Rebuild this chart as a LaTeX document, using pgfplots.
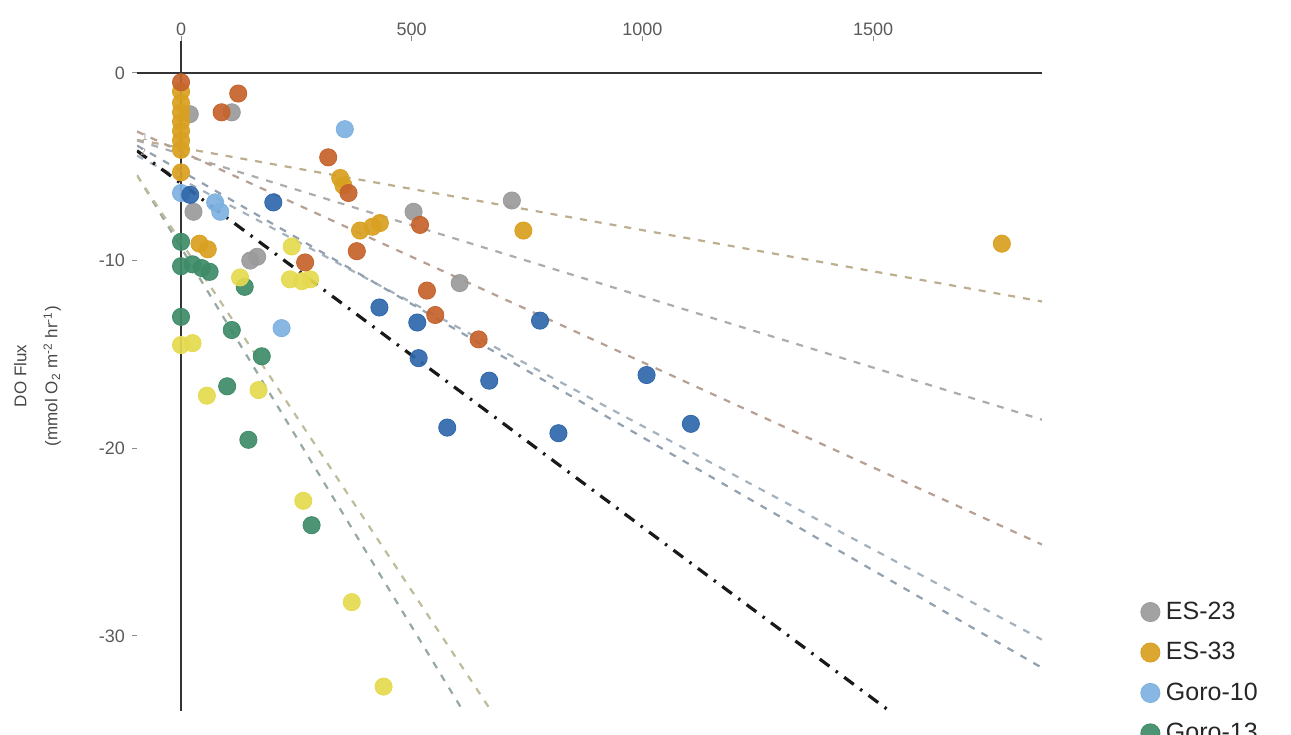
\documentclass[border=0pt]{standalone}
\usepackage{fontspec}
\setmainfont{Liberation Sans}
\usepackage{pgfplots}
\pgfplotsset{compat=1.18}

\definecolor{cES23}{HTML}{9A9A9A}
\definecolor{cES33}{HTML}{D9A020}
\definecolor{cG10}{HTML}{7DB1E0}
\definecolor{cG13}{HTML}{3E8B68}
\definecolor{cYel}{HTML}{E5DA4E}
\definecolor{cBlu}{HTML}{2F67AB}
\definecolor{cVer}{HTML}{C5622B}
\definecolor{tickgray}{HTML}{5A5A5A}

\begin{document}
\begin{tikzpicture}
\useasboundingbox (-68.5pt,-11.5pt) rectangle (577pt,355.5pt);
\clip (-68.5pt,-11.5pt) rectangle (577pt,355.5pt);
\begin{axis}[
  scale only axis,
  width=452.5pt, height=335pt,
  xmin=-95.4, xmax=1866, ymin=-34, ymax=1.7,
  axis line style={draw=none},
  xtick={0,500,1000,1500}, xticklabels={0,500,1000,1500},
  ytick={-30,-20,-10,0}, yticklabels={-30,-20,-10,0},
  xtick pos=right, xticklabel pos=right,
  ytick pos=left,
  tick align=outside, major tick length=2.5pt,
  tick style={color=tickgray!70, line width=0.5pt},
  ticklabel style={font=\fontsize{9}{10}\selectfont, text=tickgray},
  xticklabel style={yshift=-3.5pt},
  ylabel={DO Flux\\(mmol O\textsubscript{2} m\textsuperscript{-2} hr\textsuperscript{-1})},
  ylabel style={font=\fontsize{8.5}{15.5}\selectfont, align=center, text=tickgray!80!black,
    at={(axis description cs:-0.0762,0.5)}, anchor=south, rotate=0},
  every axis plot/.append style={line join=round},
  legend style={at={(axis description cs:1.1087,0.1695)}, anchor=north west,
    draw=none, fill=none, inner sep=0pt, row sep=6pt,
    font=\fontsize{12.5}{14}\selectfont, text=black!85,
    nodes={inner xsep=3pt, inner ysep=2pt}},
  legend cell align=left,
  legend image code/.code={\draw[#1, mark size=4.8pt] plot coordinates {(0.17cm,0cm)};},
]
% zero lines
\addplot[forget plot, color=black!80, line width=1pt] coordinates {(-95.4,0) (1866,0)};
\addplot[forget plot, color=black!80, line width=1pt] coordinates {(0,1.7) (0,-34)};

\pgfplotsset{pt/.style={only marks, mark=*, mark size=4.3pt,
  mark options={draw=none, fill=#1, fill opacity=0.92}, color=#1}}

% ES-23
\addplot[pt=cES23] coordinates {
(19,-2.2) (110,-2.1) (27,-7.4) (150,-10.0) (165,-9.8)
(504,-7.4) (717,-6.8) (604,-11.2)};
% ES-33
\addplot[pt=cES33] coordinates {
(0,-1.0) (0,-1.6) (0,-2.1) (0,-2.6) (0,-3.1) (0,-3.6) (0,-4.1) (0,-5.3)
(40,-9.1) (58,-9.4) (345,-5.6) (352,-6.0) (388,-8.4) (415,-8.2) (431,-8.0)
(742,-8.4) (1779,-9.1)};
% Goro-10
\addplot[pt=cG10] coordinates {
(0,-6.4) (74,-6.9) (85,-7.4) (355,-3.0) (218,-13.6)};
% Goro-13
\addplot[pt=cG13] coordinates {
(0,-9.0) (0,-10.3) (25,-10.2) (45,-10.4) (62,-10.6) (138,-11.4) (0,-13.0)
(110,-13.7) (175,-15.1) (100,-16.7) (146,-19.55) (283,-24.1)};
% further sites
\addplot[pt=cYel] coordinates {
(0,-14.5) (25,-14.4) (56,-17.2) (168,-16.9) (265,-22.8) (370,-28.2) (439,-32.7)
(128,-10.9) (240,-9.25) (236,-11.0) (262,-11.1) (280,-11.0)};
\addplot[pt=cBlu] coordinates {
(20,-6.5) (200,-6.9) (430,-12.5) (512,-13.3) (515,-15.2) (778,-13.2)
(668,-16.4) (577,-18.9) (818,-19.2) (1009,-16.1) (1105,-18.7)};
\addplot[pt=cVer] coordinates {
(0,-0.5) (124,-1.1) (88,-2.1) (319,-4.5) (363,-6.4) (518,-8.1) (381,-9.5)
(269,-10.1) (533,-11.6) (551,-12.9) (645,-14.2)};

% fitted lines per site
\pgfplotsset{fit/.style={forget plot, color=#1!35!gray!70, line width=1.1pt,
  dash pattern=on 3.5pt off 4pt}}
\addplot[fit=cES33] coordinates {(-95.4,-3.57) (1866,-12.18)};
\addplot[fit=cES23] coordinates {(-95.4,-3.60) (1866,-18.48)};
\addplot[fit=cVer]  coordinates {(-95.4,-3.12) (1866,-25.13)};
\addplot[fit=cG10]  coordinates {(-95.4,-4.41) (1866,-30.20)};
\addplot[fit=cBlu]  coordinates {(-95.4,-3.87) (1866,-31.70)};
\addplot[fit=cG13]  coordinates {(-95.4,-5.45) (1866,-84.70)};
\addplot[fit=cYel]  coordinates {(-95.4,-5.46) (1866,-78.37)};
% pooled fit
\addplot[forget plot, color=black!90, line width=1.6pt,
  dash pattern=on 6pt off 4pt on 1.2pt off 4pt] coordinates {(-95.4,-4.15) (1866,-40.05)};

\node[font=\fontsize{5}{6}\selectfont, text=gray!70] at (axis cs:-78,-3.4) {1};
\node[font=\fontsize{5}{6}\selectfont, text=gray!80] at (axis cs:-82,-4.2) {2};

\node[anchor=west, font=\fontsize{16}{18}\bfseries\selectfont]
  at (axis description cs:-0.1315,1.015) {A.};

\legend{ES-23,ES-33,Goro-10,Goro-13}
\end{axis}
\end{tikzpicture}
\end{document}
